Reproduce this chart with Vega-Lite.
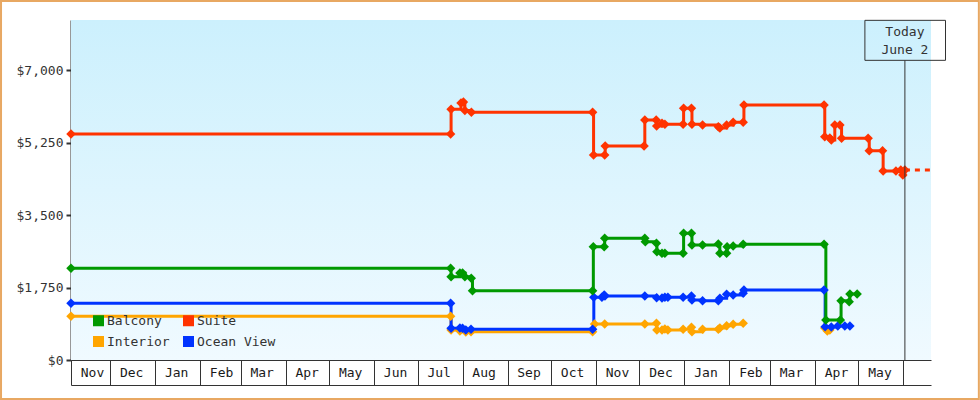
{
  "$schema": "https://vega.github.io/schema/vega-lite/v6.json",
  "width": 860,
  "height": 340,
  "autosize": {"type": "none"},
  "padding": {"left": 71, "top": 20, "right": 49, "bottom": 40},
  "background": "white",
  "config": {
    "view": {"stroke": null},
    "font": "DejaVu Sans Mono",
    "axisY": {
      "orient": "left", "grid": false,
      "domainColor": "#333333", "domainWidth": 2,
      "tickColor": "#333333", "tickWidth": 2, "tickSize": 5,
      "labelPadding": 3, "labelFont": "DejaVu Sans Mono", "labelFontSize": 13, "labelColor": "#333333"
    }
  },
  "datasets": {
    "prices": [
      {"cabin": "Interior", "seg": "Interior-1", "date": "2016-11-04T00:00:00Z", "price": 1056},
      {"cabin": "Interior", "seg": "Interior-1", "date": "2017-07-23T18:00:00Z", "price": 1056},
      {"cabin": "Interior", "seg": "Interior-1", "date": "2017-07-24T02:00:00Z", "price": 725},
      {"cabin": "Interior", "seg": "Interior-1", "date": "2017-07-30T04:00:00Z", "price": 701},
      {"cabin": "Interior", "seg": "Interior-1", "date": "2017-08-03T06:00:00Z", "price": 677},
      {"cabin": "Interior", "seg": "Interior-1", "date": "2017-08-06T20:00:00Z", "price": 684},
      {"cabin": "Interior", "seg": "Interior-1", "date": "2017-10-29T16:00:00Z", "price": 684},
      {"cabin": "Interior", "seg": "Interior-1", "date": "2017-10-31T00:00:00Z", "price": 870},
      {"cabin": "Interior", "seg": "Interior-1", "date": "2017-11-07T00:00:00Z", "price": 870},
      {"cabin": "Interior", "seg": "Interior-1", "date": "2017-12-04T16:00:00Z", "price": 870},
      {"cabin": "Interior", "seg": "Interior-1", "date": "2017-12-12T16:00:00Z", "price": 887},
      {"cabin": "Interior", "seg": "Interior-1", "date": "2017-12-13T00:00:00Z", "price": 725},
      {"cabin": "Interior", "seg": "Interior-1", "date": "2017-12-16T12:00:00Z", "price": 725},
      {"cabin": "Interior", "seg": "Interior-1", "date": "2017-12-18T12:00:00Z", "price": 749},
      {"cabin": "Interior", "seg": "Interior-1", "date": "2017-12-20T14:00:00Z", "price": 725},
      {"cabin": "Interior", "seg": "Interior-1", "date": "2017-12-31T02:00:00Z", "price": 742},
      {"cabin": "Interior", "seg": "Interior-1", "date": "2018-01-05T20:00:00Z", "price": 791},
      {"cabin": "Interior", "seg": "Interior-1", "date": "2018-01-06T04:00:00Z", "price": 684},
      {"cabin": "Interior", "seg": "Interior-1", "date": "2018-01-13T12:00:00Z", "price": 742},
      {"cabin": "Interior", "seg": "Interior-1", "date": "2018-01-24T08:00:00Z", "price": 742},
      {"cabin": "Interior", "seg": "Interior-1", "date": "2018-01-25T10:00:00Z", "price": 774},
      {"cabin": "Interior", "seg": "Interior-1", "date": "2018-01-30T02:00:00Z", "price": 829},
      {"cabin": "Interior", "seg": "Interior-1", "date": "2018-02-03T14:00:00Z", "price": 863},
      {"cabin": "Interior", "seg": "Interior-1", "date": "2018-02-10T12:00:00Z", "price": 887},
      {"cabin": "Interior", "seg": "Interior-2", "date": "2018-04-07T18:00:00Z", "price": 774},
      {"cabin": "Interior", "seg": "Interior-2", "date": "2018-04-09T12:00:00Z", "price": 701},
      {"cabin": "Interior", "seg": "Interior-2", "date": "2018-04-11T06:00:00Z", "price": 725},

      {"cabin": "Ocean View", "seg": "Ocean View", "date": "2016-11-04T00:00:00Z", "price": 1371},
      {"cabin": "Ocean View", "seg": "Ocean View", "date": "2017-07-23T18:00:00Z", "price": 1371},
      {"cabin": "Ocean View", "seg": "Ocean View", "date": "2017-07-24T02:00:00Z", "price": 766},
      {"cabin": "Ocean View", "seg": "Ocean View", "date": "2017-07-30T04:00:00Z", "price": 774},
      {"cabin": "Ocean View", "seg": "Ocean View", "date": "2017-08-01T00:00:00Z", "price": 766},
      {"cabin": "Ocean View", "seg": "Ocean View", "date": "2017-08-03T06:00:00Z", "price": 725},
      {"cabin": "Ocean View", "seg": "Ocean View", "date": "2017-08-06T20:00:00Z", "price": 742},
      {"cabin": "Ocean View", "seg": "Ocean View", "date": "2017-10-29T16:00:00Z", "price": 742},
      {"cabin": "Ocean View", "seg": "Ocean View", "date": "2017-10-30T12:00:00Z", "price": 1516},
      {"cabin": "Ocean View", "seg": "Ocean View", "date": "2017-11-05T02:00:00Z", "price": 1516},
      {"cabin": "Ocean View", "seg": "Ocean View", "date": "2017-11-06T16:00:00Z", "price": 1571},
      {"cabin": "Ocean View", "seg": "Ocean View", "date": "2017-11-07T04:00:00Z", "price": 1547},
      {"cabin": "Ocean View", "seg": "Ocean View", "date": "2017-12-04T16:00:00Z", "price": 1547},
      {"cabin": "Ocean View", "seg": "Ocean View", "date": "2017-12-12T20:00:00Z", "price": 1506},
      {"cabin": "Ocean View", "seg": "Ocean View", "date": "2017-12-16T12:00:00Z", "price": 1499},
      {"cabin": "Ocean View", "seg": "Ocean View", "date": "2017-12-18T12:00:00Z", "price": 1516},
      {"cabin": "Ocean View", "seg": "Ocean View", "date": "2017-12-20T14:00:00Z", "price": 1516},
      {"cabin": "Ocean View", "seg": "Ocean View", "date": "2017-12-31T02:00:00Z", "price": 1516},
      {"cabin": "Ocean View", "seg": "Ocean View", "date": "2018-01-05T20:00:00Z", "price": 1547},
      {"cabin": "Ocean View", "seg": "Ocean View", "date": "2018-01-06T04:00:00Z", "price": 1451},
      {"cabin": "Ocean View", "seg": "Ocean View", "date": "2018-01-13T12:00:00Z", "price": 1434},
      {"cabin": "Ocean View", "seg": "Ocean View", "date": "2018-01-24T08:00:00Z", "price": 1434},
      {"cabin": "Ocean View", "seg": "Ocean View", "date": "2018-01-25T10:00:00Z", "price": 1492},
      {"cabin": "Ocean View", "seg": "Ocean View", "date": "2018-01-30T02:00:00Z", "price": 1588},
      {"cabin": "Ocean View", "seg": "Ocean View", "date": "2018-02-03T14:00:00Z", "price": 1571},
      {"cabin": "Ocean View", "seg": "Ocean View", "date": "2018-02-10T12:00:00Z", "price": 1613},
      {"cabin": "Ocean View", "seg": "Ocean View", "date": "2018-02-11T00:00:00Z", "price": 1692},
      {"cabin": "Ocean View", "seg": "Ocean View", "date": "2018-04-07T06:00:00Z", "price": 1692},
      {"cabin": "Ocean View", "seg": "Ocean View", "date": "2018-04-08T00:00:00Z", "price": 805},
      {"cabin": "Ocean View", "seg": "Ocean View", "date": "2018-04-12T06:00:00Z", "price": 798},
      {"cabin": "Ocean View", "seg": "Ocean View", "date": "2018-04-16T18:00:00Z", "price": 822},
      {"cabin": "Ocean View", "seg": "Ocean View", "date": "2018-04-21T14:00:00Z", "price": 822},
      {"cabin": "Ocean View", "seg": "Ocean View", "date": "2018-04-25T02:00:00Z", "price": 822},

      {"cabin": "Balcony", "seg": "Balcony", "date": "2016-11-04T00:00:00Z", "price": 2217},
      {"cabin": "Balcony", "seg": "Balcony", "date": "2017-07-23T18:00:00Z", "price": 2217},
      {"cabin": "Balcony", "seg": "Balcony", "date": "2017-07-24T02:00:00Z", "price": 2014},
      {"cabin": "Balcony", "seg": "Balcony", "date": "2017-07-30T04:00:00Z", "price": 2103},
      {"cabin": "Balcony", "seg": "Balcony", "date": "2017-08-01T00:00:00Z", "price": 2103},
      {"cabin": "Balcony", "seg": "Balcony", "date": "2017-08-02T14:00:00Z", "price": 2014},
      {"cabin": "Balcony", "seg": "Balcony", "date": "2017-08-07T00:00:00Z", "price": 1975},
      {"cabin": "Balcony", "seg": "Balcony", "date": "2017-08-07T20:00:00Z", "price": 1675},
      {"cabin": "Balcony", "seg": "Balcony", "date": "2017-10-29T16:00:00Z", "price": 1675},
      {"cabin": "Balcony", "seg": "Balcony", "date": "2017-10-30T04:00:00Z", "price": 2739},
      {"cabin": "Balcony", "seg": "Balcony", "date": "2017-11-06T16:00:00Z", "price": 2739},
      {"cabin": "Balcony", "seg": "Balcony", "date": "2017-11-07T00:00:00Z", "price": 2942},
      {"cabin": "Balcony", "seg": "Balcony", "date": "2017-12-04T16:00:00Z", "price": 2942},
      {"cabin": "Balcony", "seg": "Balcony", "date": "2017-12-05T00:00:00Z", "price": 2860},
      {"cabin": "Balcony", "seg": "Balcony", "date": "2017-12-12T16:00:00Z", "price": 2821},
      {"cabin": "Balcony", "seg": "Balcony", "date": "2017-12-13T00:00:00Z", "price": 2618},
      {"cabin": "Balcony", "seg": "Balcony", "date": "2017-12-16T12:00:00Z", "price": 2580},
      {"cabin": "Balcony", "seg": "Balcony", "date": "2017-12-18T12:00:00Z", "price": 2580},
      {"cabin": "Balcony", "seg": "Balcony", "date": "2017-12-31T02:00:00Z", "price": 2580},
      {"cabin": "Balcony", "seg": "Balcony", "date": "2017-12-31T10:00:00Z", "price": 3063},
      {"cabin": "Balcony", "seg": "Balcony", "date": "2018-01-05T20:00:00Z", "price": 3063},
      {"cabin": "Balcony", "seg": "Balcony", "date": "2018-01-06T04:00:00Z", "price": 2780},
      {"cabin": "Balcony", "seg": "Balcony", "date": "2018-01-13T12:00:00Z", "price": 2780},
      {"cabin": "Balcony", "seg": "Balcony", "date": "2018-01-24T08:00:00Z", "price": 2804},
      {"cabin": "Balcony", "seg": "Balcony", "date": "2018-01-25T10:00:00Z", "price": 2580},
      {"cabin": "Balcony", "seg": "Balcony", "date": "2018-01-30T02:00:00Z", "price": 2580},
      {"cabin": "Balcony", "seg": "Balcony", "date": "2018-01-30T10:00:00Z", "price": 2739},
      {"cabin": "Balcony", "seg": "Balcony", "date": "2018-02-03T14:00:00Z", "price": 2756},
      {"cabin": "Balcony", "seg": "Balcony", "date": "2018-02-10T12:00:00Z", "price": 2797},
      {"cabin": "Balcony", "seg": "Balcony", "date": "2018-04-07T06:00:00Z", "price": 2797},
      {"cabin": "Balcony", "seg": "Balcony", "date": "2018-04-08T12:00:00Z", "price": 967},
      {"cabin": "Balcony", "seg": "Balcony", "date": "2018-04-18T12:00:00Z", "price": 967},
      {"cabin": "Balcony", "seg": "Balcony", "date": "2018-04-19T00:00:00Z", "price": 1434},
      {"cabin": "Balcony", "seg": "Balcony", "date": "2018-04-24T14:00:00Z", "price": 1409},
      {"cabin": "Balcony", "seg": "Balcony", "date": "2018-04-25T02:00:00Z", "price": 1596},
      {"cabin": "Balcony", "seg": "Balcony", "date": "2018-04-30T02:00:00Z", "price": 1596},

      {"cabin": "Suite", "seg": "Suite", "date": "2016-11-04T00:00:00Z", "price": 5464},
      {"cabin": "Suite", "seg": "Suite", "date": "2017-07-23T18:00:00Z", "price": 5464},
      {"cabin": "Suite", "seg": "Suite", "date": "2017-07-24T02:00:00Z", "price": 6061},
      {"cabin": "Suite", "seg": "Suite", "date": "2017-07-30T22:00:00Z", "price": 6213},
      {"cabin": "Suite", "seg": "Suite", "date": "2017-08-01T14:00:00Z", "price": 6237},
      {"cabin": "Suite", "seg": "Suite", "date": "2017-08-02T14:00:00Z", "price": 6032},
      {"cabin": "Suite", "seg": "Suite", "date": "2017-08-07T02:00:00Z", "price": 5988},
      {"cabin": "Suite", "seg": "Suite", "date": "2017-10-29T16:00:00Z", "price": 5988},
      {"cabin": "Suite", "seg": "Suite", "date": "2017-10-30T08:00:00Z", "price": 4956},
      {"cabin": "Suite", "seg": "Suite", "date": "2017-11-07T00:00:00Z", "price": 4956},
      {"cabin": "Suite", "seg": "Suite", "date": "2017-11-07T08:00:00Z", "price": 5174},
      {"cabin": "Suite", "seg": "Suite", "date": "2017-12-04T04:00:00Z", "price": 5174},
      {"cabin": "Suite", "seg": "Suite", "date": "2017-12-04T16:00:00Z", "price": 5802},
      {"cabin": "Suite", "seg": "Suite", "date": "2017-12-12T12:00:00Z", "price": 5802},
      {"cabin": "Suite", "seg": "Suite", "date": "2017-12-12T20:00:00Z", "price": 5657},
      {"cabin": "Suite", "seg": "Suite", "date": "2017-12-16T12:00:00Z", "price": 5722},
      {"cabin": "Suite", "seg": "Suite", "date": "2017-12-18T12:00:00Z", "price": 5698},
      {"cabin": "Suite", "seg": "Suite", "date": "2017-12-31T02:00:00Z", "price": 5698},
      {"cabin": "Suite", "seg": "Suite", "date": "2017-12-31T10:00:00Z", "price": 6085},
      {"cabin": "Suite", "seg": "Suite", "date": "2018-01-05T20:00:00Z", "price": 6085},
      {"cabin": "Suite", "seg": "Suite", "date": "2018-01-06T04:00:00Z", "price": 5698},
      {"cabin": "Suite", "seg": "Suite", "date": "2018-01-13T12:00:00Z", "price": 5681},
      {"cabin": "Suite", "seg": "Suite", "date": "2018-01-24T08:00:00Z", "price": 5640},
      {"cabin": "Suite", "seg": "Suite", "date": "2018-01-25T10:00:00Z", "price": 5609},
      {"cabin": "Suite", "seg": "Suite", "date": "2018-01-30T02:00:00Z", "price": 5681},
      {"cabin": "Suite", "seg": "Suite", "date": "2018-02-03T14:00:00Z", "price": 5747},
      {"cabin": "Suite", "seg": "Suite", "date": "2018-02-10T12:00:00Z", "price": 5747},
      {"cabin": "Suite", "seg": "Suite", "date": "2018-02-11T00:00:00Z", "price": 6165},
      {"cabin": "Suite", "seg": "Suite", "date": "2018-04-07T06:00:00Z", "price": 6165},
      {"cabin": "Suite", "seg": "Suite", "date": "2018-04-07T18:00:00Z", "price": 5398},
      {"cabin": "Suite", "seg": "Suite", "date": "2018-04-11T06:00:00Z", "price": 5367},
      {"cabin": "Suite", "seg": "Suite", "date": "2018-04-12T06:00:00Z", "price": 5319},
      {"cabin": "Suite", "seg": "Suite", "date": "2018-04-14T16:00:00Z", "price": 5681},
      {"cabin": "Suite", "seg": "Suite", "date": "2018-04-18T04:00:00Z", "price": 5681},
      {"cabin": "Suite", "seg": "Suite", "date": "2018-04-19T08:00:00Z", "price": 5360},
      {"cabin": "Suite", "seg": "Suite", "date": "2018-05-07T16:00:00Z", "price": 5360},
      {"cabin": "Suite", "seg": "Suite", "date": "2018-05-08T10:00:00Z", "price": 5060},
      {"cabin": "Suite", "seg": "Suite", "date": "2018-05-17T14:00:00Z", "price": 5060},
      {"cabin": "Suite", "seg": "Suite", "date": "2018-05-18T00:00:00Z", "price": 4569},
      {"cabin": "Suite", "seg": "Suite", "date": "2018-05-26T20:00:00Z", "price": 4569},
      {"cabin": "Suite", "seg": "Suite", "date": "2018-05-30T04:00:00Z", "price": 4593},
      {"cabin": "Suite", "seg": "Suite", "date": "2018-05-31T14:00:00Z", "price": 4473},
      {"cabin": "Suite", "seg": "Suite", "date": "2018-06-02T00:00:00Z", "price": 4593}
    ],
    "projection": [
      {"cabin": "Suite", "date": "2018-06-02T00:00:00Z", "price": 4593},
      {"cabin": "Suite", "date": "2018-06-20T00:00:00Z", "price": 4593}
    ]
  },
  "resolve": {"axis": {"x": "independent"}},
  "layer": [
    {
      "data": {"values": [{}]},
      "mark": {
        "type": "rect",
        "fill": {
          "gradient": "linear", "x1": 0, "y1": 0, "x2": 0, "y2": 1,
          "stops": [{"offset": 0, "color": "#ccf0fd"}, {"offset": 1, "color": "#f0faff"}]
        }
      },
      "encoding": {
        "x": {
          "datum": {"year": 2016, "month": 11, "date": 4, "utc": true},
          "type": "temporal",
          "scale": {"type": "utc", "nice": false, "domain": [{"year": 2016, "month": 11, "date": 4, "utc": true}, {"year": 2018, "month": 6, "date": 20, "utc": true}]},
          "axis": {
            "orient": "bottom", "title": null, "grid": false,
            "values": [
              {"year": 2016, "month": 11, "date": 4, "utc": true},
              {"year": 2016, "month": 12, "date": 1, "utc": true},
              {"year": 2017, "month": 1, "date": 1, "utc": true},
              {"year": 2017, "month": 2, "date": 1, "utc": true},
              {"year": 2017, "month": 3, "date": 1, "utc": true},
              {"year": 2017, "month": 4, "date": 1, "utc": true},
              {"year": 2017, "month": 5, "date": 1, "utc": true},
              {"year": 2017, "month": 6, "date": 1, "utc": true},
              {"year": 2017, "month": 7, "date": 1, "utc": true},
              {"year": 2017, "month": 8, "date": 1, "utc": true},
              {"year": 2017, "month": 9, "date": 1, "utc": true},
              {"year": 2017, "month": 10, "date": 1, "utc": true},
              {"year": 2017, "month": 11, "date": 1, "utc": true},
              {"year": 2017, "month": 12, "date": 1, "utc": true},
              {"year": 2018, "month": 1, "date": 1, "utc": true},
              {"year": 2018, "month": 2, "date": 1, "utc": true},
              {"year": 2018, "month": 3, "date": 1, "utc": true},
              {"year": 2018, "month": 4, "date": 1, "utc": true},
              {"year": 2018, "month": 5, "date": 1, "utc": true},
              {"year": 2018, "month": 6, "date": 1, "utc": true}
            ],
            "labelExpr": "datum.value >= utc(2018, 5, 1) ? '' : utcFormat(datum.value, '%b')",
            "tickSize": 25, "tickWidth": 1, "tickColor": "#333333",
            "domainColor": "#333333", "domainWidth": 1,
            "labelOffset": 21, "labelPadding": -19,
            "labelFlush": false, "labelOverlap": false, "labelBound": false,
            "labelAlign": "center", "labelBaseline": "top",
            "labelFont": "DejaVu Sans Mono", "labelFontSize": 13, "labelColor": "#1a1a1a"
          }
        },
        "x2": {"datum": {"year": 2018, "month": 6, "date": 20, "utc": true}},
        "y": {
          "datum": 0, "type": "quantitative",
          "scale": {"domain": [0, 8220], "nice": false, "zero": false},
          "axis": {"title": null, "values": [0, 1750, 3500, 5250, 7000], "format": "$,.0f"}
        },
        "y2": {"datum": 8220}
      }
    },
    {
      "data": {"name": "prices"},
      "mark": {"type": "line", "interpolate": "step-after", "strokeWidth": 3},
      "encoding": {
        "x": {
          "field": "date", "type": "temporal",
          "scale": {"type": "utc", "nice": false, "domain": [{"year": 2016, "month": 11, "date": 4, "utc": true}, {"year": 2018, "month": 6, "date": 20, "utc": true}]},
          "axis": {"orient": "bottom", "offset": 25, "title": null, "grid": false, "ticks": false, "labels": false, "domain": true, "domainColor": "#333333", "domainWidth": 1}
        },
        "y": {"field": "price", "type": "quantitative", "scale": {"domain": [0, 8220], "nice": false, "zero": false}, "axis": {"title": null, "values": [0, 1750, 3500, 5250, 7000], "format": "$,.0f"}},
        "stroke": {
          "field": "cabin", "type": "nominal",
          "scale": {"domain": ["Interior", "Ocean View", "Balcony", "Suite"], "range": ["#ffa500", "#0033ff", "#009900", "#ff3300"]},
          "legend": null
        },
        "detail": {"field": "seg"}
      }
    },
    {
      "data": {"name": "projection"},
      "mark": {"type": "line", "strokeWidth": 3, "strokeDash": [5, 5], "color": "#ff3300"},
      "encoding": {
        "x": {"field": "date", "type": "temporal", "axis": null},
        "y": {"field": "price", "type": "quantitative", "axis": {"title": null, "values": [0, 1750, 3500, 5250, 7000], "format": "$,.0f"}}
      }
    },
    {
      "data": {"name": "prices"},
      "mark": {"type": "point", "shape": "diamond", "filled": true, "size": 90, "opacity": 1, "strokeWidth": 0},
      "encoding": {
        "x": {"field": "date", "type": "temporal", "axis": null},
        "y": {"field": "price", "type": "quantitative", "axis": {"title": null, "values": [0, 1750, 3500, 5250, 7000], "format": "$,.0f"}},
        "color": {
          "field": "cabin", "type": "nominal",
          "scale": {"domain": ["Balcony", "Interior", "Suite", "Ocean View"], "range": ["#009900", "#ffa500", "#ff3300", "#0033ff"]},
          "legend": {
            "title": null, "orient": "none", "legendX": 21, "legendY": 294,
            "columns": 2, "padding": 0, "rowPadding": 7, "columnPadding": 12,
            "symbolType": "square", "symbolSize": 121, "symbolStrokeWidth": 0, "symbolOpacity": 1,
            "labelFont": "DejaVu Sans Mono", "labelFontSize": 13, "labelColor": "#333333", "labelOffset": 2
          }
        }
      }
    },
    {
      "data": {"values": [{}]},
      "mark": {"type": "rule", "color": "#333333", "strokeWidth": 1},
      "encoding": {
        "x": {"datum": {"year": 2018, "month": 6, "date": 2, "utc": true}, "type": "temporal", "axis": null},
        "y": {"datum": 7245, "type": "quantitative", "axis": {"title": null, "values": [0, 1750, 3500, 5250, 7000], "format": "$,.0f"}},
        "y2": {"datum": 0}
      }
    },
    {
      "data": {"values": [{}]},
      "mark": {"type": "rect", "filled": false, "stroke": "#333333", "strokeWidth": 1},
      "encoding": {
        "x": {"datum": {"year": 2018, "month": 5, "date": 5, "hours": 10, "utc": true}, "type": "temporal", "axis": null},
        "x2": {"datum": {"year": 2018, "month": 6, "date": 30, "utc": true}},
        "y": {"datum": 7245, "type": "quantitative", "axis": {"title": null, "values": [0, 1750, 3500, 5250, 7000], "format": "$,.0f"}},
        "y2": {"datum": 8212}
      }
    },
    {
      "data": {"values": [{"label": "Today"}]},
      "mark": {"type": "text", "font": "DejaVu Sans Mono", "fontSize": 13, "color": "#333333", "align": "center", "baseline": "middle"},
      "encoding": {
        "x": {"datum": {"year": 2018, "month": 6, "date": 2, "utc": true}, "type": "temporal", "axis": null},
        "y": {"datum": 7918, "type": "quantitative", "axis": {"title": null, "values": [0, 1750, 3500, 5250, 7000], "format": "$,.0f"}},
        "text": {"field": "label"}
      }
    },
    {
      "data": {"values": [{"label": "June 2"}]},
      "mark": {"type": "text", "font": "DejaVu Sans Mono", "fontSize": 13, "color": "#333333", "align": "center", "baseline": "middle"},
      "encoding": {
        "x": {"datum": {"year": 2018, "month": 6, "date": 2, "utc": true}, "type": "temporal", "axis": null},
        "y": {"datum": 7495, "type": "quantitative", "axis": {"title": null, "values": [0, 1750, 3500, 5250, 7000], "format": "$,.0f"}},
        "text": {"field": "label"}
      }
    },
    {
      "data": {"values": [{}]},
      "mark": {"type": "rect", "filled": false, "stroke": "#e8a862", "strokeWidth": 2},
      "encoding": {
        "x": {"datum": {"year": 2016, "month": 9, "date": 16, "hours": 18, "utc": true}, "type": "temporal", "axis": null},
        "x2": {"datum": {"year": 2018, "month": 7, "date": 23, "utc": true}},
        "y": {"datum": 8679, "type": "quantitative", "axis": {"title": null, "values": [0, 1750, 3500, 5250, 7000], "format": "$,.0f"}},
        "y2": {"datum": -943}
      }
    }
  ]
}
